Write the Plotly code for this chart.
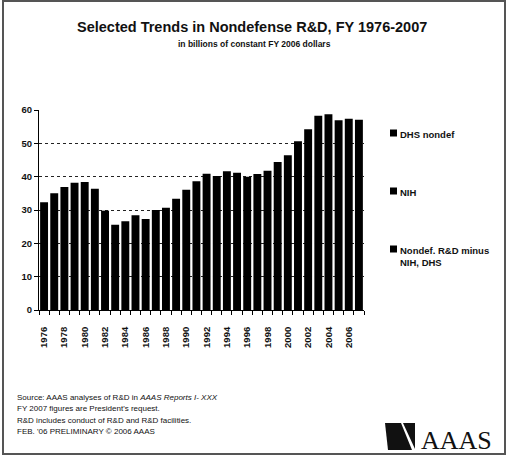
import plotly.graph_objects as go

years = list(range(1976, 2008))
totals = [32.3, 35.0, 36.9, 38.2, 38.4, 36.4, 29.8, 25.6, 26.6, 28.4, 27.3, 30.0,
          30.7, 33.4, 36.1, 38.6, 40.9, 40.2, 41.6, 41.2, 40.0, 40.8, 41.8, 44.4,
          46.4, 50.6, 54.2, 58.3, 58.7, 56.9, 57.4, 57.1]
tick_years = list(range(1976, 2007, 2))
tick_labels = [str(y) for y in tick_years]
y_ticks = [0, 10, 20, 30, 40, 50, 60]
legend_names = ["DHS nondef", "NIH", "Nondef. R&D minus<br>NIH, DHS"]
title_text = "Selected Trends in Nondefense R&D, FY 1976-2007"
subtitle_text = "in billions of constant FY 2006 dollars"
notes = ["Source: AAAS analyses of R&D in <i>AAAS Reports I- XXX</i>",
         "FY 2007 figures are President's request.",
         "R&D includes conduct of R&D and R&D facilities.",
         "FEB. '06 PRELIMINARY © 2006 AAAS"]

W, H = 508, 465
L, R, T, B = 39, 144, 110, 155
PW, PH = W - L - R, H - T - B


def px(x):
    return (x - L) / PW


def py(y):
    return (H - B - y) / PH


FONT = "Liberation Sans, Arial, sans-serif"

fig = go.Figure()
fig.add_trace(go.Bar(x=years, y=totals, marker=dict(color="black", line=dict(width=0)),
                     showlegend=False))

annotations = []
annotations.append(dict(x=px(252), y=py(27), xref="paper", yref="paper", text="<b>" + title_text + "</b>",
                        showarrow=False, font=dict(family=FONT, size=14.5, color="#111"),
                        xanchor="center", yanchor="middle"))
annotations.append(dict(x=px(254), y=py(44), xref="paper", yref="paper", text="<b>" + subtitle_text + "</b>",
                        showarrow=False, font=dict(family=FONT, size=8.5, color="#111"),
                        xanchor="center", yanchor="middle"))
leg_y = [133, 191, 249]
shapes = [
    dict(type="rect", xref="paper", yref="paper", x0=px(3), y0=py(1), x1=px(505), y1=py(454),
         line=dict(color="#555", width=2), layer="below"),
    dict(type="path", xref="paper", yref="paper",
         path=f"M {px(385)} {py(423)} L {px(401)} {py(423)} L {px(412)} {py(450)} L {px(388)} {py(450)} Z",
         fillcolor="#111", line=dict(width=0)),
    dict(type="path", xref="paper", yref="paper",
         path=f"M {px(403)} {py(423)} L {px(415)} {py(423)} L {px(415)} {py(449)} Z",
         fillcolor="#111", line=dict(width=0)),
]
for name, yy in zip(legend_names, leg_y):
    shapes.append(dict(type="rect", xref="paper", yref="paper",
                       x0=px(390), x1=px(397), y0=py(yy - 3.5), y1=py(yy + 3.5),
                       fillcolor="black", line=dict(width=0)))
    annotations.append(dict(x=px(398), y=py(yy - 6.5), xref="paper", yref="paper",
                            text="<b>" + name + "</b>", showarrow=False, align="left",
                            font=dict(family=FONT, size=9.5, color="#111"),
                            xanchor="left", yanchor="top"))
for i, line in enumerate(notes):
    annotations.append(dict(x=px(15), y=py(397 + i * 11.5), xref="paper", yref="paper",
                            text=line, showarrow=False, align="left",
                            font=dict(family=FONT, size=8, color="#111"),
                            xanchor="left", yanchor="middle"))
annotations.append(dict(x=px(419), y=py(440), xref="paper", yref="paper", text="AAAS",
                        showarrow=False, font=dict(family="Liberation Serif, Times New Roman, serif",
                                                   size=26, color="#111"),
                        xanchor="left", yanchor="middle"))

fig.update_layout(
    width=W, height=H,
    margin=dict(l=L, r=R, t=T, b=B),
    paper_bgcolor="white", plot_bgcolor="white",
    bargap=0.22,
    showlegend=False,
    annotations=annotations,
    shapes=shapes,
    xaxis=dict(
        range=[1975.5, 2007.5],
        tickmode="array", tickvals=tick_years, ticktext=tick_labels,
        tickangle=-90, ticks="", showgrid=False,
        tickfont=dict(family=FONT, size=9.5, color="#111", weight="bold"),
        showline=True, linecolor="black", linewidth=1,
        zeroline=False,
        minor=dict(tickmode="linear", tick0=1975.5, dtick=1, ticks="outside",
                   ticklen=4, tickcolor="black", tickwidth=1, showgrid=False),
        ticklabelstandoff=12,
    ),
    yaxis=dict(
        range=[0, 60], tickmode="array", tickvals=y_ticks,
        ticks="outside", ticklen=4, tickcolor="black",
        showgrid=False, zeroline=False,
        showline=True, linecolor="black", linewidth=1,
        tickfont=dict(family=FONT, size=9.5, color="#111", weight="bold"),
        minor=dict(tickmode="array", tickvals=[10, 20, 30, 40, 50], showgrid=True,
                   gridcolor="#222", griddash="dot", gridwidth=1, ticks=""),
    ),
)

fig.write_html("out.html")
